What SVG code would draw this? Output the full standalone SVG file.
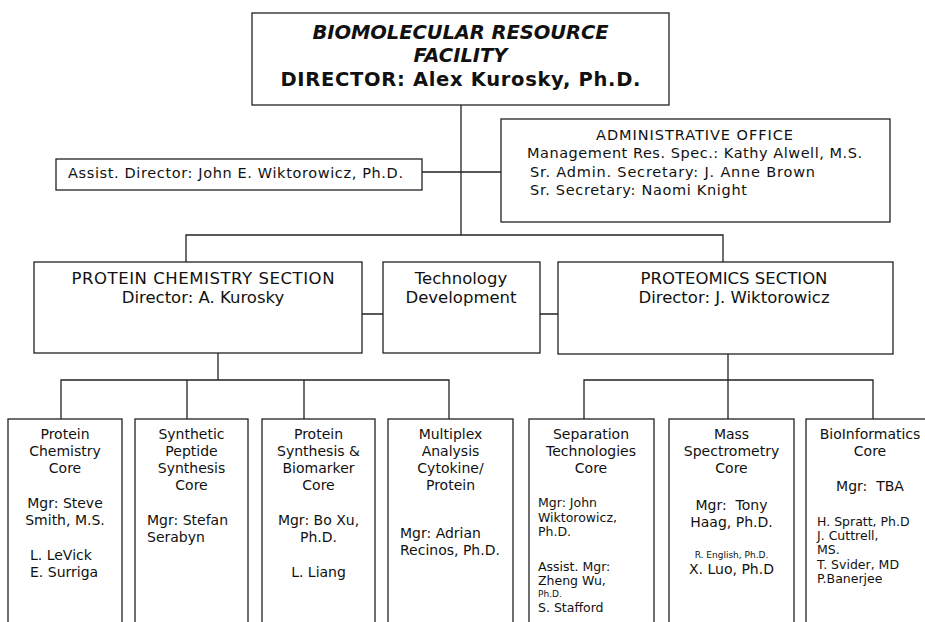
<svg xmlns="http://www.w3.org/2000/svg" width="925" height="622" viewBox="0 0 925 622">
<style>
.box{fill:#fff;stroke:#222;stroke-width:1.3}
.ln{fill:none;stroke:#222;stroke-width:1.3}
text{font-family:"DejaVu Sans",Verdana,sans-serif;fill:#111;white-space:pre}
.t{font-size:19.5px;font-weight:bold;text-anchor:middle}
.ti{font-style:italic}
.a{font-size:14.5px}
.m{font-size:16.5px;text-anchor:middle}
.c{font-size:14px;text-anchor:middle}
.l{font-size:14px}
.s{font-size:12.5px}
.xs{font-size:9px}
</style>
<rect width="925" height="622" fill="#fff"/>
<g id="connectors">
<path class="ln" d="M461 105V235M461 172H422M461 172H501M186 262V235H723V262"/>
<path class="ln" d="M362 314H383M540 314H558"/>
<path class="ln" d="M218 353V380M61 419V380H449V419M187 380V419M304 380V419"/>
<path class="ln" d="M728 354V419M584 419V380H873V419"/>
</g>
<g id="director">
<rect class="box" x="252" y="13" width="417" height="92"/>
<text class="t ti" x="460.5" y="39" textLength="296">BIOMOLECULAR RESOURCE</text>
<text class="t ti" x="460.5" y="62">FACILITY</text>
<text class="t" x="460.5" y="86" textLength="360">DIRECTOR: Alex Kurosky, Ph.D.</text>
</g>
<g id="assist">
<rect class="box" x="56" y="159" width="366" height="31"/>
<text class="a" x="68" y="178" textLength="335">Assist. Director: John E. Wiktorowicz, Ph.D.</text>
</g>
<g id="admin">
<rect class="box" x="501" y="119" width="389" height="103"/>
<text class="a" x="694.5" y="140" text-anchor="middle" textLength="197">ADMINISTRATIVE OFFICE</text>
<text class="a" x="527" y="158" textLength="335">Management Res. Spec.: Kathy Alwell, M.S.</text>
<text class="a" x="530" y="177" textLength="285">Sr. Admin. Secretary: J. Anne Brown</text>
<text class="a" x="530" y="195" textLength="217">Sr. Secretary: Naomi Knight</text>
</g>
<g id="protein-chem-section">
<rect class="box" x="34" y="262" width="328" height="91"/>
<text class="m" x="203" y="284" textLength="263">PROTEIN CHEMISTRY SECTION</text>
<text class="m" x="203" y="303">Director: A. Kurosky</text>
</g>
<g id="tech-dev">
<rect class="box" x="383" y="262" width="157" height="91"/>
<text class="m" x="461" y="284">Technology</text>
<text class="m" x="461" y="303">Development</text>
</g>
<g id="proteomics-section">
<rect class="box" x="558" y="262" width="335" height="92"/>
<text class="m" x="734" y="284">PROTEOMICS SECTION</text>
<text class="m" x="734" y="303">Director: J. Wiktorowicz</text>
</g>
<g id="core-protein-chem">
<rect class="box" x="8" y="419" width="114" height="220"/>
<text class="c" x="65" y="439">Protein</text>
<text class="c" x="65" y="456">Chemistry</text>
<text class="c" x="65" y="473">Core</text>
<text class="c" x="65" y="508">Mgr: Steve</text>
<text class="c" x="65" y="525">Smith, M.S.</text>
<text class="l" x="30" y="560">L. LeVick</text>
<text class="l" x="30" y="577">E. Surriga</text>
</g>
<g id="core-peptide">
<rect class="box" x="135" y="419" width="113" height="220"/>
<text class="c" x="191.5" y="439">Synthetic</text>
<text class="c" x="191.5" y="456">Peptide</text>
<text class="c" x="191.5" y="473">Synthesis</text>
<text class="c" x="191.5" y="490">Core</text>
<text class="l" x="147" y="525">Mgr: Stefan</text>
<text class="l" x="147" y="542">Serabyn</text>
</g>
<g id="core-biomarker">
<rect class="box" x="262" y="419" width="113" height="220"/>
<text class="c" x="318.5" y="439">Protein</text>
<text class="c" x="318.5" y="456">Synthesis &amp;</text>
<text class="c" x="318.5" y="473">Biomarker</text>
<text class="c" x="318.5" y="490">Core</text>
<text class="c" x="318.5" y="525">Mgr: Bo Xu,</text>
<text class="c" x="318.5" y="542">Ph.D.</text>
<text class="c" x="318.5" y="577">L. Liang</text>
</g>
<g id="core-multiplex">
<rect class="box" x="388" y="419" width="125" height="220"/>
<text class="c" x="450.5" y="439">Multiplex</text>
<text class="c" x="450.5" y="456">Analysis</text>
<text class="c" x="450.5" y="473">Cytokine/</text>
<text class="c" x="450.5" y="490">Protein</text>
<text class="l" x="400" y="538">Mgr: Adrian</text>
<text class="l" x="400" y="555">Recinos, Ph.D.</text>
</g>
<g id="core-separation">
<rect class="box" x="529" y="419" width="125" height="220"/>
<text class="c" x="591" y="439">Separation</text>
<text class="c" x="591" y="456">Technologies</text>
<text class="c" x="591" y="473">Core</text>
<text class="s" x="538" y="507">Mgr: John</text>
<text class="s" x="538" y="522">Wiktorowicz,</text>
<text class="s" x="538" y="536">Ph.D.</text>
<text class="s" x="538" y="571">Assist. Mgr:</text>
<text class="s" x="538" y="585">Zheng Wu,</text>
<text class="xs" x="538" y="597">Ph.D.</text>
<text class="s" x="538" y="612">S. Stafford</text>
</g>
<g id="core-mass-spec">
<rect class="box" x="669" y="419" width="125" height="220"/>
<text class="c" x="731.5" y="439">Mass</text>
<text class="c" x="731.5" y="456">Spectrometry</text>
<text class="c" x="731.5" y="473">Core</text>
<text class="c" x="731.5" y="510">Mgr:  Tony</text>
<text class="c" x="731.5" y="527">Haag, Ph.D.</text>
<text class="xs" x="731.5" y="558" text-anchor="middle">R. English, Ph.D.</text>
<text class="c" x="731.5" y="574">X. Luo, Ph.D</text>
</g>
<g id="core-bioinformatics">
<rect class="box" x="806" y="419" width="134" height="220"/>
<text class="c" x="870" y="439">BioInformatics</text>
<text class="c" x="870" y="456">Core</text>
<text class="c" x="870" y="491">Mgr:  TBA</text>
<text class="s" x="817" y="526">H. Spratt, Ph.D</text>
<text class="s" x="817" y="540">J. Cuttrell,</text>
<text class="s" x="817" y="554">MS.</text>
<text class="s" x="817" y="569">T. Svider, MD</text>
<text class="s" x="817" y="583">P.Banerjee</text>
</g>
</svg>
